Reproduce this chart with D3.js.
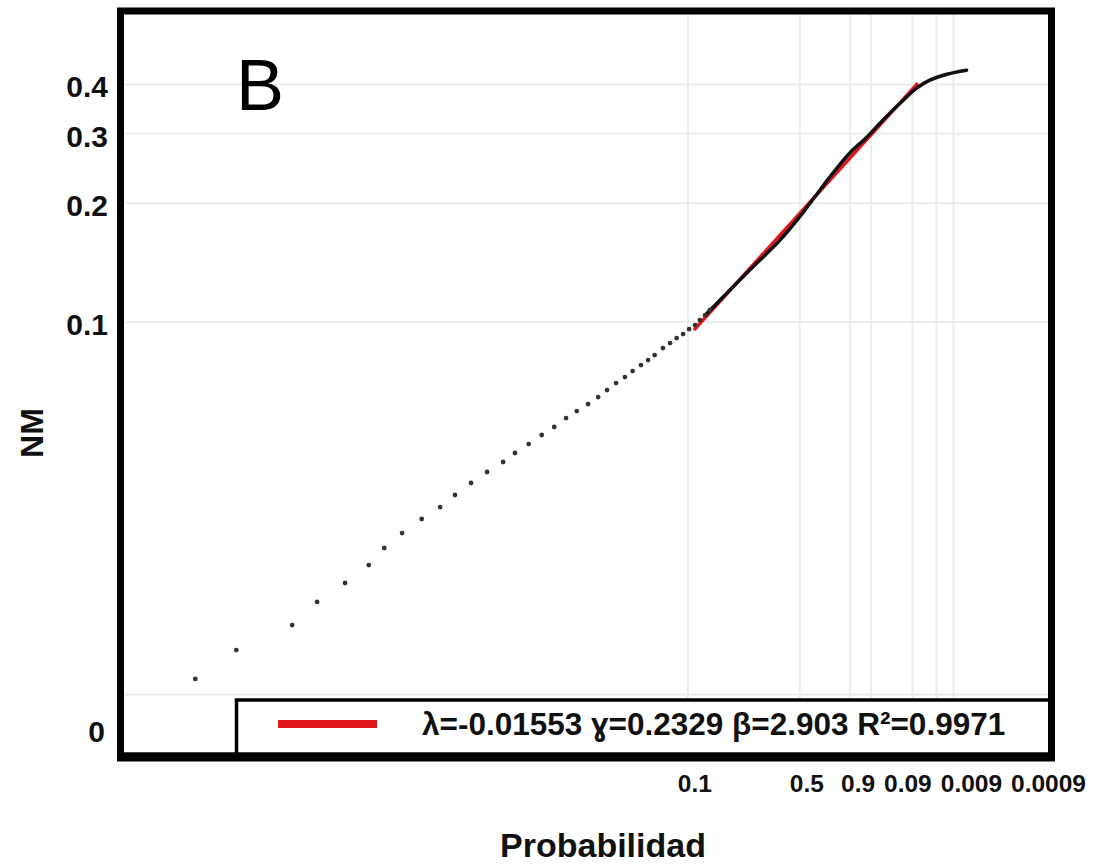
<!DOCTYPE html>
<html>
<head>
<meta charset="utf-8">
<script src="https://cdn.jsdelivr.net/npm/d3@7.9.0/dist/d3.min.js"></script>
<style>
  html, body { margin: 0; padding: 0; background: #fff; }
  svg { display: block; font-family: "Liberation Sans", Arial, sans-serif; }
</style>
</head>
<body>
<svg id="chart" width="1095" height="865"></svg>
<script>
// Weibull plotting variate: ln(-ln(1 - F))
const weib = F => Math.log(-Math.log(1 - F));

// --- axis / grid values ---
const gridProbs = [0.1, 0.5, 0.8, 0.9, 0.99, 0.999, 0.9999];
const xTickProbs = [0.1, 0.5, 0.9, 0.99, 0.999, 0.9999];
const xTickLabels = ['0.1', '0.5', '0.9', '0.09', '0.009', '0.0009'];
const yTickVals = [0.1, 0.2, 0.3, 0.4];
const yGridVals = [0.0114, 0.1, 0.2, 0.3, 0.4];
const yZeroLabelAt = 0.0092;

// --- data: sparse points (weibull variate, NM) ---
const dotWx = [-10.54, -9.85, -8.91, -8.49, -8.02, -7.62, -7.36, -7.06, -6.73, -6.42,
  -6.17, -5.90, -5.63, -5.36, -5.16, -4.93, -4.71, -4.50, -4.30, -4.12,
  -3.93, -3.76, -3.61, -3.46, -3.31, -3.18, -3.04, -2.92, -2.81, -2.67,
  -2.55, -2.44, -2.33, -2.23, -2.13, -2.05, -1.96, -1.88];
const dotNM = [0.01248, 0.01477, 0.01709, 0.01955, 0.02184, 0.02425, 0.02678, 0.02922, 0.03172, 0.03401,
  0.03648, 0.03913, 0.04172, 0.04422, 0.04660, 0.04911, 0.05176, 0.05423, 0.05715, 0.05953,
  0.06201, 0.06457, 0.06727, 0.07008, 0.07258, 0.07515, 0.07782, 0.08012, 0.08250, 0.08594,
  0.08846, 0.09111, 0.09324, 0.09600, 0.09826, 0.1012, 0.1041, 0.1072];

// dense upper part (points merge into a line)
const curveWx = [-1.96, -1.21, -0.70, -0.32, -0.03, 0.19, 0.47, 0.76, 1.03, 1.32, 1.60, 1.82, 2.11, 2.44];
const curveNM = [0.1041, 0.1354, 0.1613, 0.1888, 0.2158, 0.2383, 0.2678, 0.2940, 0.3246, 0.3584, 0.3914, 0.4100, 0.4245, 0.4345];

// fitted line endpoints
const fitWx = [-2.15, 1.62];
const fitNM = [0.0954, 0.4028];

const legendText = 'λ=-0.01553 ɣ=0.2329 β=2.903 R²=0.9971';

const svg = d3.select('#chart');
const plot = { left: 124, right: 1048, top: 15, bottom: 752 };

const x = d3.scaleLinear().domain([-11.74, 3.81]).range([plot.left, plot.right]);
const y = d3.scaleLog().domain([0.00815, 0.603]).range([plot.bottom, 14]);

// gridlines
svg.append('g')
  .selectAll('line')
  .data(yGridVals)
  .join('line')
  .attr('x1', plot.left).attr('x2', plot.right)
  .attr('y1', d => y(d)).attr('y2', d => y(d))
  .attr('stroke', '#ececec').attr('stroke-width', 2);

svg.append('g')
  .selectAll('line')
  .data(gridProbs)
  .join('line')
  .attr('x1', d => x(weib(d))).attr('x2', d => x(weib(d)))
  .attr('y1', plot.top).attr('y2', plot.bottom)
  .attr('stroke', '#ececec').attr('stroke-width', 2);

// fitted line (red)
const line = d3.line().x(d => x(d[0])).y(d => y(d[1]));
svg.append('path')
  .datum(d3.zip(fitWx, fitNM))
  .attr('d', line)
  .attr('fill', 'none')
  .attr('stroke', '#e3161c')
  .attr('stroke-width', 3.5);

// dense data part
svg.append('path')
  .datum(d3.zip(curveWx, curveNM))
  .attr('d', line.curve(d3.curveCatmullRom.alpha(0.5)))
  .attr('fill', 'none')
  .attr('stroke', '#111')
  .attr('stroke-width', 3.5)
  .attr('stroke-linecap', 'round');

// sparse dots
svg.append('g')
  .selectAll('circle')
  .data(d3.zip(dotWx, dotNM))
  .join('circle')
  .attr('cx', d => x(d[0]))
  .attr('cy', d => y(d[1]))
  .attr('r', 2.4)
  .attr('fill', '#333');

// legend box
const legend = svg.append('g');
legend.append('rect')
  .attr('x', 236.5).attr('y', 700)
  .attr('width', 1051.5 - 236.5).attr('height', 56)
  .attr('fill', '#fff')
  .attr('stroke', '#000').attr('stroke-width', 3.5);
legend.append('line')
  .attr('x1', 278).attr('x2', 377)
  .attr('y1', 724).attr('y2', 724)
  .attr('stroke', '#e3161c').attr('stroke-width', 8);
legend.append('text')
  .attr('x', 422).attr('y', 735)
  .attr('font-size', 31.5).attr('font-weight', 'bold')
  .attr('fill', '#111')
  .text(legendText);

// frame
svg.append('rect')
  .attr('x', 120.5).attr('y', 11)
  .attr('width', 931).attr('height', 745)
  .attr('fill', 'none')
  .attr('stroke', '#000').attr('stroke-width', 7);
svg.append('line')
  .attr('x1', 117).attr('x2', 1055)
  .attr('y1', 757).attr('y2', 757)
  .attr('stroke', '#000').attr('stroke-width', 9);

// panel letter
svg.append('text')
  .attr('x', 236).attr('y', 110)
  .attr('font-size', 72)
  .attr('fill', '#000')
  .text('B');

// y tick labels
const yAxis = d3.axisLeft(y)
  .tickValues(yTickVals)
  .tickFormat(d3.format('.1f'))
  .tickSize(0)
  .tickPadding(0);
const gy = svg.append('g')
  .attr('transform', 'translate(108,3)')
  .call(yAxis);
gy.select('.domain').remove();
gy.selectAll('text')
  .attr('font-size', 30).attr('font-weight', 'bold')
  .attr('font-family', '"Liberation Sans", Arial, sans-serif')
  .attr('fill', '#111');

svg.append('text')
  .attr('x', 105).attr('y', y(yZeroLabelAt))
  .attr('dy', '0.35em')
  .attr('text-anchor', 'end')
  .attr('font-size', 30).attr('font-weight', 'bold')
  .attr('fill', '#111')
  .text('0');

// x tick labels: crowded, so push right then pack against the right edge
const xt = svg.append('g')
  .selectAll('text')
  .data(xTickProbs)
  .join('text')
  .attr('y', 792)
  .attr('font-size', 24.5).attr('font-weight', 'bold')
  .attr('fill', '#111')
  .text((d, i) => xTickLabels[i]);

const widths = xt.nodes().map(n => n.getComputedTextLength());
const gap = 9;
const starts = [];
xTickProbs.forEach((p, i) => {
  let s = x(weib(p)) + 7 - widths[i] / 2;
  if (i > 0) s = Math.max(s, starts[i - 1] + widths[i - 1] + gap);
  starts.push(s);
});
let limit = 1086;
for (let i = starts.length - 1; i >= 0; i--) {
  starts[i] = Math.min(starts[i], limit - widths[i]);
  limit = starts[i] - gap;
}
xt.attr('x', (d, i) => starts[i]);

// axis titles
svg.append('text')
  .attr('x', 603).attr('y', 857)
  .attr('text-anchor', 'middle')
  .attr('font-size', 34).attr('font-weight', 'bold')
  .attr('fill', '#111')
  .text('Probabilidad');

svg.append('text')
  .attr('transform', 'translate(43,433) rotate(-90)')
  .attr('text-anchor', 'middle')
  .attr('font-size', 32).attr('font-weight', 'bold')
  .attr('fill', '#111')
  .text('NM');
</script>
</body>
</html>
